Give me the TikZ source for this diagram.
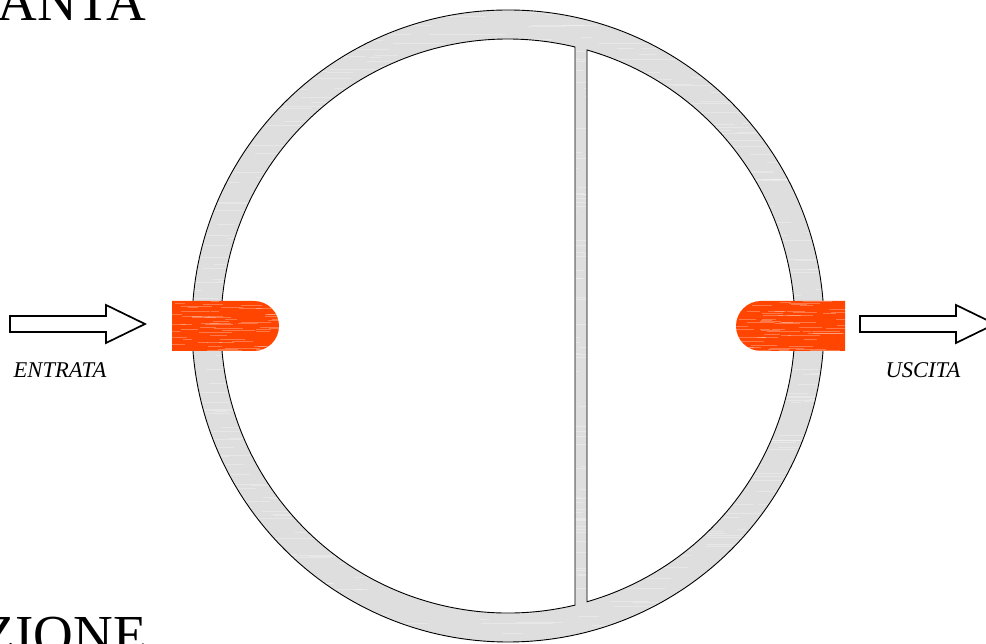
\documentclass[tikz,border=0pt]{standalone}
\usepackage{fontspec}
\setmainfont{Liberation Serif}
\usetikzlibrary{positioning,calc}

\definecolor{wallgray}{HTML}{DEDEDE}
\definecolor{portred}{HTML}{FF4500}

% count, x origin, x range, y origin, y range, length, style
\newcommand{\streaks}[7]{%
  \foreach \i in {1,...,#1} {
    \pgfmathsetmacro{\sx}{#2+rnd*#3}
    \pgfmathsetmacro{\sy}{#4+rnd*#5}
    \pgfmathsetmacro{\sl}{8+rnd*#6}
    \draw[#7, line width=0.8pt] (\sx,\sy) -- ++(\sl,0);
  }}

\begin{document}
\begin{tikzpicture}[x=1pt, y=1pt,
    wall/.style={draw=black, line width=0.9pt, fill=wallgray, even odd rule},
    port/.style={fill=portred},
    flowarrow/.style={draw=black, line width=1.7pt, fill=white, line join=miter},
    bigtitle/.style={font=\fontsize{55}{55}\selectfont, inner sep=0pt},
    flowlabel/.style={font=\fontsize{22.5}{24}\selectfont\itshape, inner sep=0pt}]

\useasboundingbox (0,0) rectangle (986,644);
\clip (0,0) rectangle (986,644);
\pgfmathsetseed{7}

% Ring and partition wall
\path[wall, path picture={\streaks{900}{170}{680}{0}{644}{70}{white, opacity=0.3}}]
    (508,318) circle[radius=316]
    (575,597) arc[start angle=76.5, end angle=283.5, radius=287] -- cycle
    (587,594) arc[start angle=74, end angle=-74, radius=287] -- cycle;

% Inlet and outlet ports
\path[port, path picture={\streaks{60}{165}{110}{293}{50}{28}{white, opacity=0.28}}]
    (172,293) -- (254,293) arc[start angle=-90, end angle=90, radius=25] -- (172,343) -- cycle;
\path[port, path picture={\streaks{60}{730}{110}{293}{50}{28}{white, opacity=0.28}}]
    (845,293) -- (761,293) arc[start angle=270, end angle=90, radius=25] -- (845,343) -- cycle;

% Flow arrows
\draw[flowarrow] (10,312) -- (106,312) -- (106,301) -- (145,320) -- (106,339) -- (106,328) -- (10,328) -- cycle;
\draw[flowarrow] (860,312) -- (956,312) -- (956,301) -- (995,320) -- (956,339) -- (956,328) -- (860,328) -- cycle;

\node[flowlabel, anchor=base] (entrata) at (60,266) {ENTRATA};
\node[flowlabel, anchor=base] (uscita) at (923,266) {USCITA};

% Cut-off titles
\node[bigtitle, anchor=base east] (titletop) at (146,623) {ANTA};
\node[bigtitle, anchor=base east] (titlebottom) at (147,-10) {ZIONE};
\end{tikzpicture}
\end{document}
